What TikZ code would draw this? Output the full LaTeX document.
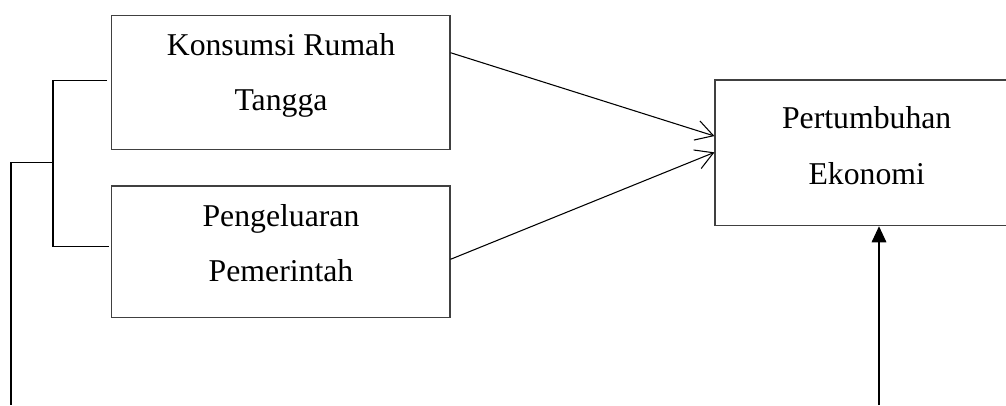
\documentclass[tikz,border=0pt]{standalone}
\usepackage{fontspec}
\setmainfont{Liberation Serif}
\usetikzlibrary{arrows.meta,calc}
\begin{document}
\begin{tikzpicture}[x=0.75pt,y=-0.75pt,
  box/.style={draw=black!75,line width=0.8pt,rectangle,inner sep=0pt},
  lbl/.style={inner sep=0pt,anchor=base,font=\fontsize{23.8pt}{28pt}\selectfont},
  conn/.style={line width=0.8pt,black},
  barb/.style={conn,-{Straight Barb[length=13pt,width=15pt,line width=0.8pt]}},
  tri/.style={conn,-{Triangle[length=12pt,width=11pt]}}]
\useasboundingbox (0,0) rectangle (1006,405);
% boxes
\node[box,minimum width=253.7pt,minimum height=100.2pt] (b1) at (280.85,82.5) {};
\node[box,minimum width=253.7pt,minimum height=98.5pt] (b2) at (280.85,251.65) {};
\node[box,minimum width=227.25pt,minimum height=109.3pt] (b3) at (866.5,152.85) {};
% labels
\node[lbl] (t1a) at (281,55) {Konsumsi Rumah};
\node[lbl] (t1b) at (281,110) {Tangga};
\node[lbl] (t2a) at (281,226.7) {Pengeluaran};
\node[lbl] (t2b) at (281,281.7) {Pemerintah};
\node[lbl] (t3a) at (866.7,128.3) {Pertumbuhan};
\node[lbl] (t3b) at (866.7,184) {Ekonomi};
% bracket
\coordinate (k1) at (53,80.7);
\coordinate (k1e) at (107,80.7);
\coordinate (k2) at (53,246.7);
\coordinate (k2e) at (109,246.7);
\coordinate (km) at (53,162.7);
\coordinate (kl) at (11,162.7);
\coordinate (kb) at (11,405);
\draw[conn] (k1e) -- (k1) -- (k2) -- (k2e);
\draw[conn] (km) -- (kl) -- (kb);
% arrows
\draw[barb] ($(b1.east)+(0,-29.8)$) -- ($(b3.west)+(0,-16.8)$);
\draw[barb] ($(b2.east)+(0,7.65)$) -- ($(b3.west)+(0,-0.5)$);
\coordinate (up) at (879,405);
\draw[tri] (up) -- (up |- b3.south);
\end{tikzpicture}
\end{document}
